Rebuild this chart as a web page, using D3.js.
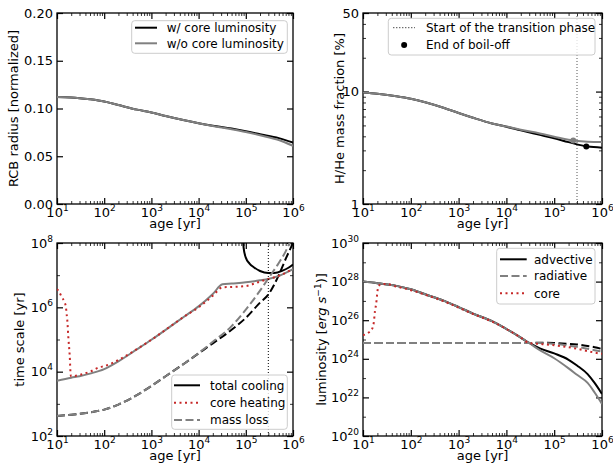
<!DOCTYPE html>
<html>
<head>
<meta charset="utf-8">
<script src="https://cdn.jsdelivr.net/npm/d3@7"></script>
<style>
  body { margin: 0; background: #fff; }
  text { font-family: "DejaVu Sans", sans-serif; }
</style>
</head>
<body>
<script>
// ---- data ----
const ageGrid = [10, 20, 50, 100, 200, 500, 1e3, 2e3, 5e3, 1e4, 2e4, 5e4, 1e5, 2e5, 5e5, 1e6];

// RCB radius [normalized]
const rcbCore   = [0.1120, 0.1116, 0.1096, 0.1073, 0.1036, 0.0988, 0.0958, 0.0921, 0.0876, 0.0846, 0.0820, 0.0790, 0.0762, 0.0731, 0.0690, 0.0643];
const rcbNoCore = [0.1120, 0.1116, 0.1096, 0.1073, 0.1036, 0.0988, 0.0958, 0.0921, 0.0876, 0.0845, 0.0817, 0.0783, 0.0754, 0.0720, 0.0670, 0.0608];

// H/He mass fraction [%]
const heCore   = [9.8, 9.55, 9.1, 8.65, 8.05, 7.15, 6.45, 5.85, 5.2, 4.87, 4.52, 4.12, 3.84, 3.55, 3.24, 3.17];
const heNoCore = [9.8, 9.55, 9.1, 8.65, 8.05, 7.15, 6.45, 5.85, 5.2, 4.89, 4.58, 4.24, 3.97, 3.72, 3.58, 3.56];
const boilOffAge  = [2.5e5, 4.7e5];
const boilOffFrac = [3.67, 3.24];
const transitionAge = 3e5;

// time scales [yr]
const coolAge    = [10, 20, 30, 50, 100, 200, 500, 1e3, 2e3, 5e3, 1e4, 2e4, 3.2e4, 5e4, 1e5, 2e5, 3e5, 5e5, 1e6];
const coolNoCore = [5.2e3, 6.5e3, 7.2e3, 8.7e3, 1.2e4, 2.1e4, 5.0e4, 9.8e4, 2.0e5, 5.2e5, 1.07e6, 2.6e6, 5.2e6, 5.5e6, 6.0e6, 6.9e6, 7.6e6, 9.5e6, 1.55e7];
const coolCoreAge = [8.6e4, 9e4, 1e5, 1.2e5, 1.5e5, 2e5, 3e5, 4e5, 6e5, 8e5, 1e6];
const coolCore    = [2.5e8, 7.1e7, 3.5e7, 2.3e7, 1.74e7, 1.35e7, 1.17e7, 1.17e7, 1.38e7, 1.7e7, 2.14e7];
const heatAge  = [10, 11, 12.6, 14.3, 15.5, 16, 16.5, 17.4, 18.6, 19.5, 20, 30, 50, 80, 100, 200, 500, 1e3, 2e3, 5e3, 1e4, 2e4, 3.2e4, 5e4, 1e5, 2e5, 3e5, 5e5, 1e6];
const heatCore = [3.7e6, 3.1e6, 2.1e6, 1.5e6, 9.8e5, 6.2e5, 4.1e5, 1.15e5, 3.1e4, 7.9e3, 7.2e3, 7.9e3, 1.0e4, 1.38e4, 1.48e4, 2.3e4, 5.1e4, 9.8e4, 2.0e5, 5.2e5, 1.0e6, 2.3e6, 4.2e6, 4.3e6, 4.6e6, 6.3e6, 7.6e6, 9.5e6, 1.58e7];
const massAge    = [10, 20, 50, 100, 200, 500, 1e3, 2e3, 5e3, 1e4, 2e4, 5e4, 1e5, 2e5, 3e5, 5e5, 7e5, 8.5e5, 1e6];
const massNoCore = [4.2e2, 4.6e2, 5.4e2, 6.6e2, 9.5e2, 1.9e3, 3.6e3, 7.2e3, 1.8e4, 3.8e4, 8.5e4, 2.6e5, 8.5e5, 3.3e6, 7.9e6, 2.4e7, 5.5e7, 1.0e8, 1.6e8];
const massCore   = [4.2e2, 4.6e2, 5.4e2, 6.6e2, 9.5e2, 1.9e3, 3.6e3, 7.2e3, 1.8e4, 3.7e4, 7.6e4, 2.0e5, 4.7e5, 1.4e6, 2.5e6, 1.0e7, 3.2e7, 6.0e7, 1.0e8];

// luminosity [erg/s]
const lumAge    = [10, 20, 50, 100, 200, 500, 1e3, 2e3, 5e3, 1e4, 2e4, 3e4, 5e4, 1e5, 2e5, 3e5, 5e5, 7e5, 1e6];
const advNoCore = [1.0e28, 8.3e27, 6.0e27, 4.0e27, 2.2e27, 1.0e27, 4.8e26, 2.2e26, 8.9e25, 3.5e25, 1.26e25, 6.6e24, 2.8e24, 1.07e24, 3.2e23, 1.48e23, 5.6e22, 1.8e22, 4.6e21];
const advCore   = [1.0e28, 8.3e27, 6.0e27, 4.0e27, 2.2e27, 1.0e27, 4.8e26, 2.2e26, 8.9e25, 3.5e25, 1.26e25, 6.6e24, 3.5e24, 1.9e24, 8.9e23, 4.5e23, 1.6e23, 5.6e22, 1.5e22];
const radCore   = [6.5e24, 6.5e24, 6.5e24, 6.5e24, 6.5e24, 6.5e24, 6.5e24, 6.5e24, 6.5e24, 6.5e24, 6.5e24, 6.5e24, 6.8e24, 6.6e24, 6.0e24, 5.5e24, 4.6e24, 4.0e24, 3.2e24];
const radNoCore = [6.5e24, 6.5e24, 6.5e24, 6.5e24, 6.5e24, 6.5e24, 6.5e24, 6.5e24, 6.5e24, 6.5e24, 6.5e24, 6.5e24, 6.5e24, 5.9e24, 4.8e24, 4.2e24, 3.3e24, 2.8e24, 2.4e24];
const coreLumAge = [10, 12.9, 15.7, 16.8, 17.8, 18.7, 19.3, 19.9, 20.9, 24.5, 30, 50, 100, 200, 500, 1e3, 2e3, 5e3, 1e4, 2e4, 3e4, 5e4, 1e5, 2e5, 3e5, 5e5, 7e5, 1e6];
const coreLum    = [1.7e25, 2.2e25, 3.8e25, 7.4e25, 3.0e26, 6.2e26, 1.2e27, 2.6e27, 5.5e27, 7.6e27, 7.6e27, 5.5e27, 3.6e27, 2.1e27, 9.3e26, 4.5e26, 2.1e26, 8.5e25, 3.5e25, 1.26e25, 6.6e24, 5.9e24, 5.0e24, 4.0e24, 3.3e24, 2.5e24, 2.1e24, 1.8e24];

const xMajor = [1e1, 1e2, 1e3, 1e4, 1e5, 1e6];

// ---- drawing ----
const GREY = "#808080", RED = "#c62828";
const svg = d3.select("body").append("svg").attr("width", 613).attr("height", 471);

const zip = (a, b) => a.map((v, i) => [v, b[i]]);

function logMinor(lo, hi) {
  const out = [];
  for (let e = Math.floor(Math.log10(lo)); e < Math.ceil(Math.log10(hi)); e++) {
    for (let k = 2; k < 10; k++) {
      const v = k * Math.pow(10, e);
      if (v > lo && v < hi) out.push(v);
    }
  }
  return out;
}

function supLabel(sel) {
  sel.each(function (d) {
    const t = d3.select(this);
    t.text(null);
    t.append("tspan").text("10");
    t.append("tspan").attr("dy", -6).attr("font-size", 9).text(Math.round(Math.log10(d)));
  });
}

let clipId = 0;
function panel(box, yScale, yMajor, yMinor, yFmt, yLabel, yLabelX) {
  const w = box.x1 - box.x0, h = box.y1 - box.y0;
  const g = svg.append("g").attr("transform", `translate(${box.x0},${box.y0})`);
  const x = d3.scaleLog().domain([10, 1e6]).range([0, w]);
  const y = yScale.range([h, 0]);
  const xMinor = logMinor(10, 1e6);

  const axes = [
    [d3.axisBottom, `translate(0,${h})`, x, true],
    [d3.axisTop, "translate(0,0)", x, false],
    [d3.axisLeft, "translate(0,0)", y, true],
    [d3.axisRight, `translate(${w},0)`, y, false],
  ];
  axes.forEach(([fn, tr, sc, lab], i) => {
    const isX = i < 2;
    const maj = g.append("g").attr("transform", tr)
      .call(fn(sc).tickValues(isX ? xMajor : yMajor).tickSize(-6).tickPadding(4)
        .tickFormat(lab ? (isX ? () => "" : yFmt) : () => ""));
    const minV = isX ? xMinor : yMinor;
    if (minV.length) {
      g.append("g").attr("transform", tr)
        .call(fn(sc).tickValues(minV).tickSize(-3).tickFormat(() => ""))
        .call(s => s.select(".domain").remove())
        .selectAll("line").attr("stroke-width", 0.8);
    }
    maj.select(".domain").remove();
    maj.selectAll("line").attr("stroke-width", 1.2);
    maj.selectAll("text").attr("font-size", 13).attr("fill", "#000").attr("font-family", "DejaVu Sans");
    if (lab && isX) maj.selectAll("text").call(supLabel);
    if (lab && !isX && yFmt === null) maj.selectAll("text").call(supLabel);
  });

  g.append("rect").attr("width", w).attr("height", h)
    .attr("fill", "none").attr("stroke", "#000").attr("stroke-width", 1.3);

  g.append("text").attr("x", w / 2).attr("y", h + 24).attr("text-anchor", "middle")
    .attr("font-size", 13).text("age [yr]");

  const yl = svg.append("text").attr("font-size", 13).attr("text-anchor", "middle")
    .attr("transform", `translate(${yLabelX},${(box.y0 + box.y1) / 2}) rotate(-90)`);
  yLabel(yl);

  const id = "clip" + (clipId++);
  g.append("clipPath").attr("id", id).append("rect").attr("width", w).attr("height", h);
  const plot = g.append("g").attr("clip-path", `url(#${id})`);
  return { g, plot, x, y, w, h };
}

function addLine(p, pts, color, dash, width) {
  const line = d3.line().x(d => p.x(d[0])).y(d => p.y(d[1])).curve(d3.curveMonotoneX);
  p.plot.append("path").datum(pts).attr("d", line)
    .attr("fill", "none").attr("stroke", color).attr("stroke-width", width || 2)
    .attr("stroke-dasharray", dash || null);
}

function addVLine(p, xv, color) {
  p.plot.append("line").attr("x1", p.x(xv)).attr("x2", p.x(xv)).attr("y1", 0).attr("y2", p.h)
    .attr("stroke", color || "#000").attr("stroke-width", 1).attr("stroke-dasharray", "1,2");
}

function legend(p, bx, by, bw, bh, items, sx0, sx1, tx) {
  const lg = p.g.append("g");
  lg.append("rect").attr("x", bx).attr("y", by).attr("width", bw).attr("height", bh)
    .attr("rx", 3).attr("fill", "#fff").attr("fill-opacity", 0.8)
    .attr("stroke", "#cccccc").attr("stroke-width", 1);
  items.forEach(it => {
    if (it.dot) {
      lg.append("circle").attr("cx", (sx0 + sx1) / 2).attr("cy", it.y).attr("r", 3).attr("fill", it.color);
    } else {
      lg.append("line").attr("x1", sx0).attr("x2", sx1).attr("y1", it.y).attr("y2", it.y)
        .attr("stroke", it.color).attr("stroke-width", it.width || 2)
        .attr("stroke-dasharray", it.dash || null);
    }
    lg.append("text").attr("x", tx).attr("y", it.y).attr("dy", "0.35em")
      .attr("font-size", 12).text(it.label);
  });
}

// top-left: RCB radius
const pTL = panel({ x0: 57, y0: 13, x1: 293, y1: 204 }, d3.scaleLinear().domain([0, 0.2]),
  [0, 0.05, 0.1, 0.15, 0.2], [], d3.format(".2f"),
  t => t.text("RCB radius [normalized]"), 18);
addLine(pTL, zip(ageGrid, rcbCore), "#000");
addLine(pTL, zip(ageGrid, rcbNoCore), GREY);
legend(pTL, 74.7, 7.7, 155.6, 32.6, [
  { y: 14.7, color: "#000", label: "w/ core luminosity" },
  { y: 30.3, color: GREY, label: "w/o core luminosity" },
], 78, 100, 109.7);

// top-right: H/He mass fraction
const pTR = panel({ x0: 363, y0: 13, x1: 602, y1: 204 }, d3.scaleLog().domain([1, 50]),
  [1, 10, 50], logMinor(1, 50), d => String(d),
  t => t.text("H/He mass fraction [%]"), 344);
addLine(pTR, zip(ageGrid, heCore), "#000");
addLine(pTR, zip(ageGrid, heNoCore), GREY);
addVLine(pTR, transitionAge, "#555");
pTR.plot.append("circle").attr("cx", pTR.x(boilOffAge[0])).attr("cy", pTR.y(boilOffFrac[0])).attr("r", 3).attr("fill", GREY);
pTR.plot.append("circle").attr("cx", pTR.x(boilOffAge[1])).attr("cy", pTR.y(boilOffFrac[1])).attr("r", 3).attr("fill", "#000");
legend(pTR, 25.3, 5.3, 206.7, 36.7, [
  { y: 14.7, color: "#000", dash: "1,2", width: 1, label: "Start of the transition phase" },
  { y: 32, color: "#000", dot: true, label: "End of boil-off" },
], 30.3, 52, 63);

// bottom-left: time scales
const pBL = panel({ x0: 57, y0: 243, x1: 293, y1: 436 }, d3.scaleLog().domain([1e2, 1e8]),
  [1e2, 1e4, 1e6, 1e8], [1e3, 1e5, 1e7], null,
  t => t.text("time scale [yr]"), 24);
addLine(pBL, zip(coolCoreAge, coolCore), "#000");
addLine(pBL, zip(massAge, massCore), "#000", "8,3.5");
addLine(pBL, zip(coolAge, coolNoCore), GREY);
addLine(pBL, zip(massAge, massNoCore), GREY, "8,3.5");
addLine(pBL, zip(heatAge, heatCore), RED, "2,3.5");
addVLine(pBL, transitionAge);
legend(pBL, 114.7, 132, 115.6, 54.3, [
  { y: 142.3, color: "#000", label: "total cooling" },
  { y: 159.7, color: RED, dash: "2,3.5", label: "core heating" },
  { y: 177, color: GREY, dash: "8,3.5", label: "mass loss" },
], 117, 143, 153);

// bottom-right: luminosity
const pBR = panel({ x0: 363, y0: 243, x1: 602, y1: 436 }, d3.scaleLog().domain([1e20, 1e30]),
  [1e20, 1e22, 1e24, 1e26, 1e28, 1e30], [1e21, 1e23, 1e25, 1e27, 1e29], null,
  t => {
    t.append("tspan").text("luminosity [");
    t.append("tspan").attr("font-style", "italic").text("erg s");
    t.append("tspan").attr("dy", -5).attr("font-size", 9).text("\u22121");
    t.append("tspan").attr("dy", 5).text(")]");
  }, 326);
addLine(pBR, zip(lumAge, advCore), "#000");
addLine(pBR, zip(lumAge, radCore), "#000", "8,3.5");
addLine(pBR, zip(lumAge, advNoCore), GREY);
addLine(pBR, zip(lumAge, radNoCore), GREY, "8,3.5");
addLine(pBR, zip(coreLumAge, coreLum), RED, "2,3.5");
legend(pBR, 133.7, 5.3, 98.3, 55.7, [
  { y: 16.3, color: "#000", label: "advective" },
  { y: 33, color: GREY, dash: "8,3.5", label: "radiative" },
  { y: 50.3, color: RED, dash: "2,3.5", label: "core" },
], 137, 163.7, 171);
</script>
</body>
</html>
